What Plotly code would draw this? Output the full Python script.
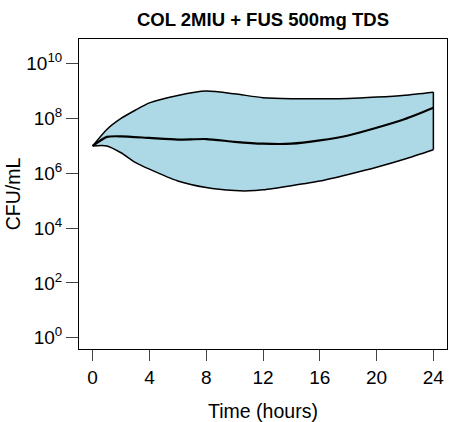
import plotly.graph_objects as go

# time points (hours) and log10 CFU/mL
t_upper = [0, 1, 2, 3, 4, 6, 8, 10, 12, 14, 16, 18, 20, 22, 24]
log_upper = [7.0, 7.6, 8.0, 8.3, 8.57, 8.84, 9.0, 8.9, 8.76, 8.72, 8.72, 8.73, 8.78, 8.85, 8.96]

t_median = [0, 1, 2, 4, 6, 8, 10, 12, 14, 16, 18, 20, 22, 24]
log_median = [7.0, 7.33, 7.35, 7.29, 7.23, 7.25, 7.15, 7.08, 7.08, 7.2, 7.38, 7.66, 7.98, 8.39]

t_lower = [0, 1, 2, 3, 4, 6, 8, 10, 11, 12, 14, 16, 18, 20, 22, 24]
log_lower = [7.0, 7.0, 6.75, 6.4, 6.15, 5.72, 5.48, 5.37, 5.36, 5.4, 5.55, 5.72, 5.96, 6.22, 6.52, 6.86]

x_ticks = [0, 4, 8, 12, 16, 20, 24]
y_exps = [0, 2, 4, 6, 8, 10]

upper = [10 ** v for v in log_upper]
median = [10 ** v for v in log_median]
lower = [10 ** v for v in log_lower]

edge = dict(color="black", width=1.5, shape="spline", smoothing=0.6)

fig = go.Figure()
fig.add_trace(go.Scatter(x=t_lower, y=lower, mode="lines", line=edge,
                         hoverinfo="skip", showlegend=False))
fig.add_trace(go.Scatter(x=t_upper, y=upper, mode="lines", line=edge,
                         fill="tonexty", fillcolor="#ADD8E6",
                         hoverinfo="skip", showlegend=False))
# closing edge of the band at the last time point
fig.add_trace(go.Scatter(x=[t_lower[-1], t_upper[-1]], y=[lower[-1], upper[-1]],
                         mode="lines", line=dict(color="black", width=1.5),
                         hoverinfo="skip", showlegend=False))
fig.add_trace(go.Scatter(
    x=t_median, y=median, mode="lines",
    line=dict(color="black", width=2.2, shape="spline", smoothing=0.6),
    showlegend=False))

font = "Liberation Sans, Arial, sans-serif"
axis_title_font = dict(family=font, size=19.5, color="black")
fig.update_layout(
    width=450, height=422,
    margin=dict(l=79, r=3, t=39, b=73),
    plot_bgcolor="white", paper_bgcolor="white",
    font=dict(family=font, size=19, color="black"),
    title=dict(text="<b>COL 2MIU + FUS 500mg TDS</b>", x=(79 + 447) / 2 / 450, xanchor="center",
               y=1 - 20 / 422, yanchor="middle", font=dict(family=font, size=18.5)),
    xaxis=dict(range=[-0.96, 24.96], tickvals=x_ticks, ticks="outside", ticklen=11,
               showline=True, mirror=True, linecolor="black", linewidth=1,
               showgrid=False, zeroline=False, automargin=False,
               title=dict(text="Time (hours)", standoff=17, font=axis_title_font)),
    yaxis=dict(type="log", range=[-0.41, 10.9],
               tickvals=[10 ** e for e in y_exps],
               ticktext=["10<sup>%d</sup>" % e for e in y_exps],
               ticks="outside", ticklen=12,
               showline=True, mirror=True, linecolor="black", linewidth=1,
               showgrid=False, zeroline=False, automargin=False,
               title=dict(text="CFU/mL", standoff=0, font=axis_title_font)),
)

fig.write_html("out.html", config={"displayModeBar": False},
               post_script="document.body.style.margin='0';")
